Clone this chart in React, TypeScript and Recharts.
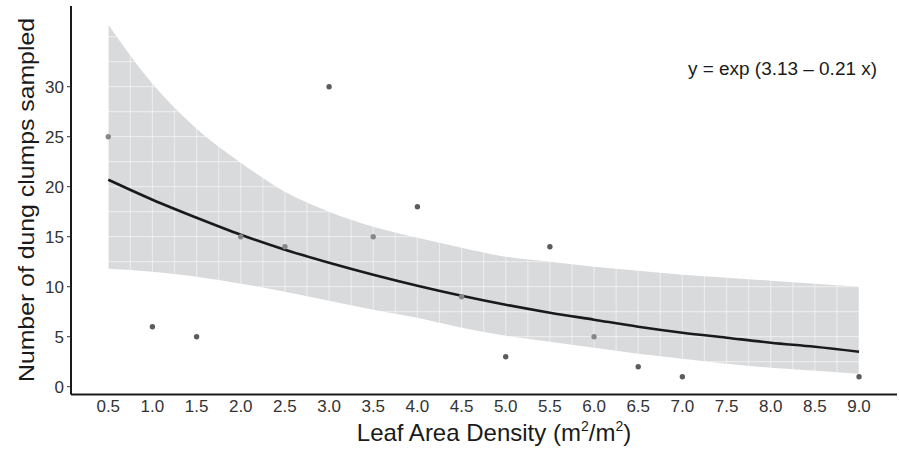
import {
  ComposedChart,
  Area,
  Line,
  Scatter,
  XAxis,
  YAxis,
  ReferenceLine,
} from "recharts";

// fitted curve + confidence band, read at each x tick
const fitX = [0.5, 1.0, 1.5, 2.0, 2.5, 3.0, 3.5, 4.0, 4.5, 5.0, 5.5, 6.0, 6.5, 7.0, 7.5, 8.0, 8.5, 9.0];
const fitY = [20.7, 18.7, 16.9, 15.2, 13.7, 12.4, 11.2, 10.1, 9.1, 8.2, 7.4, 6.7, 6.0, 5.4, 4.9, 4.4, 4.0, 3.5];
const bandUpper = [36.2, 30.3, 25.8, 22.4, 19.5, 17.5, 16.0, 14.9, 13.9, 13.0, 12.5, 12.0, 11.6, 11.2, 10.9, 10.6, 10.3, 10.0];
const bandLower = [11.8, 11.5, 11.0, 10.3, 9.5, 8.6, 7.7, 6.9, 5.9, 5.1, 4.5, 3.9, 3.3, 2.8, 2.3, 1.9, 1.6, 1.3];

// observed samples
const obsX = [0.5, 1.0, 1.5, 2.0, 2.5, 3.0, 3.5, 4.0, 4.5, 5.0, 5.5, 6.0, 6.5, 7.0, 9.0];
const obsY = [25, 6, 5, 15, 14, 30, 15, 18, 9, 3, 14, 5, 2, 1, 1];

const xTicks = [0.5, 1.0, 1.5, 2.0, 2.5, 3.0, 3.5, 4.0, 4.5, 5.0, 5.5, 6.0, 6.5, 7.0, 7.5, 8.0, 8.5, 9.0];
const yTicks = [0, 5, 10, 15, 20, 25, 30];

// panel grid (major + minor), only shows up on the band
const gridX = [0.5, 0.75, 1, 1.25, 1.5, 1.75, 2, 2.25, 2.5, 2.75, 3, 3.25, 3.5, 3.75, 4, 4.25, 4.5, 4.75, 5, 5.25, 5.5, 5.75, 6, 6.25, 6.5, 6.75, 7, 7.25, 7.5, 7.75, 8, 8.25, 8.5, 8.75, 9];
const gridY = [0, 2.5, 5, 7.5, 10, 12.5, 15, 17.5, 20, 22.5, 25, 27.5, 30, 32.5, 35, 37.5];

const fitData = fitX.map((x, i) => ({
  x,
  fit: fitY[i],
  band: [bandLower[i], bandUpper[i]],
}));
const obsData = obsX.map((x, i) => ({ x, y: obsY[i] }));

// points covered by the ribbon look lighter
function insideBand(x: number, y: number) {
  const i = fitX.indexOf(x);
  if (i < 0) return false;
  return y >= bandLower[i] - 0.2 && y <= bandUpper[i] + 0.2;
}

const FONT = "'Liberation Sans', Arial, Helvetica, sans-serif";

export default function App() {
  return (
    <div style={{ position: "absolute", left: 0, top: 0, width: 899, height: 449, background: "#fff", fontFamily: FONT }}>
      <ComposedChart
        width={899}
        height={449}
        data={fitData}
        margin={{ top: 6, right: 2, bottom: 0, left: 0 }}
      >
        <XAxis
          type="number"
          dataKey="x"
          domain={[0.078, 9.43]}
          allowDataOverflow
          ticks={xTicks}
          tickFormatter={(v: number) => v.toFixed(1)}
          interval={0}
          height={54.5}
          tickLine={false}
          tickSize={0}
          tickMargin={5}
          axisLine={{ stroke: "#1a1a1a", strokeWidth: 2 }}
          tick={{ fontSize: 17, fill: "#333", fontFamily: FONT }}
        />
        <YAxis
          type="number"
          domain={[-0.78, 38.07]}
          allowDataOverflow
          ticks={yTicks}
          interval={0}
          width={71}
          tickSize={4}
          tickMargin={3}
          tickLine={{ stroke: "#333" }}
          axisLine={{ stroke: "#1a1a1a", strokeWidth: 2 }}
          tick={{ fontSize: 17, fill: "#333", fontFamily: FONT }}
        />
        <Area
          type="monotone"
          dataKey="band"
          stroke="none"
          fill="#9c9ea3"
          fillOpacity={0.38}
          isAnimationActive={false}
          activeDot={false}
          zIndex={100}
        />
        {gridX.map((g) => (
          <ReferenceLine key={`gx-${g}`} x={g} stroke="#fff" strokeOpacity={0.45} strokeWidth={1.2} zIndex={150} />
        ))}
        {gridY.map((g) => (
          <ReferenceLine key={`gy-${g}`} y={g} stroke="#fff" strokeOpacity={0.45} strokeWidth={1.2} zIndex={150} />
        ))}
        <Line
          type="monotone"
          dataKey="fit"
          stroke="#1a1a1a"
          strokeWidth={2.6}
          dot={false}
          activeDot={false}
          isAnimationActive={false}
          zIndex={400}
        />
        <Scatter
          data={obsData}
          dataKey="y"
          fill="#5c5c5c"
          shape={(p: any) => (
            <circle
              cx={p.cx}
              cy={p.cy}
              r={2.7}
              fill={insideBand(p.payload?.x, p.payload?.y) ? "#878787" : "#5c5c5c"}
            />
          )}
          isAnimationActive={false}
          zIndex={600}
        />
      </ComposedChart>

      {/* titles + equation */}
      <svg
        width={899}
        height={449}
        style={{ position: "absolute", left: 0, top: 0, pointerEvents: "none" }}
      >
        <text
          x={33.5}
          y={200}
          transform="rotate(-90, 33.5, 200)"
          textAnchor="middle"
          fontSize={22}
          fill="#1a1a1a"
          fontFamily={FONT}
          textLength={364}
          lengthAdjust="spacingAndGlyphs"
        >
          Number of dung clumps sampled
        </text>
        <text x={494} y={441} textAnchor="middle" fontSize={24} fill="#1a1a1a" fontFamily={FONT}>
          Leaf Area Density (m
          <tspan fontSize={14} dy={-10}>2</tspan>
          <tspan dy={10}>/m</tspan>
          <tspan fontSize={14} dy={-10}>2</tspan>
          <tspan dy={10}>)</tspan>
        </text>
        <text
          x={688}
          y={75}
          fontSize={18}
          fill="#1a1a1a"
          fontFamily={FONT}
          textLength={189}
          lengthAdjust="spacingAndGlyphs"
        >
          y = exp (3.13 – 0.21 x)
        </text>
      </svg>
    </div>
  );
}
